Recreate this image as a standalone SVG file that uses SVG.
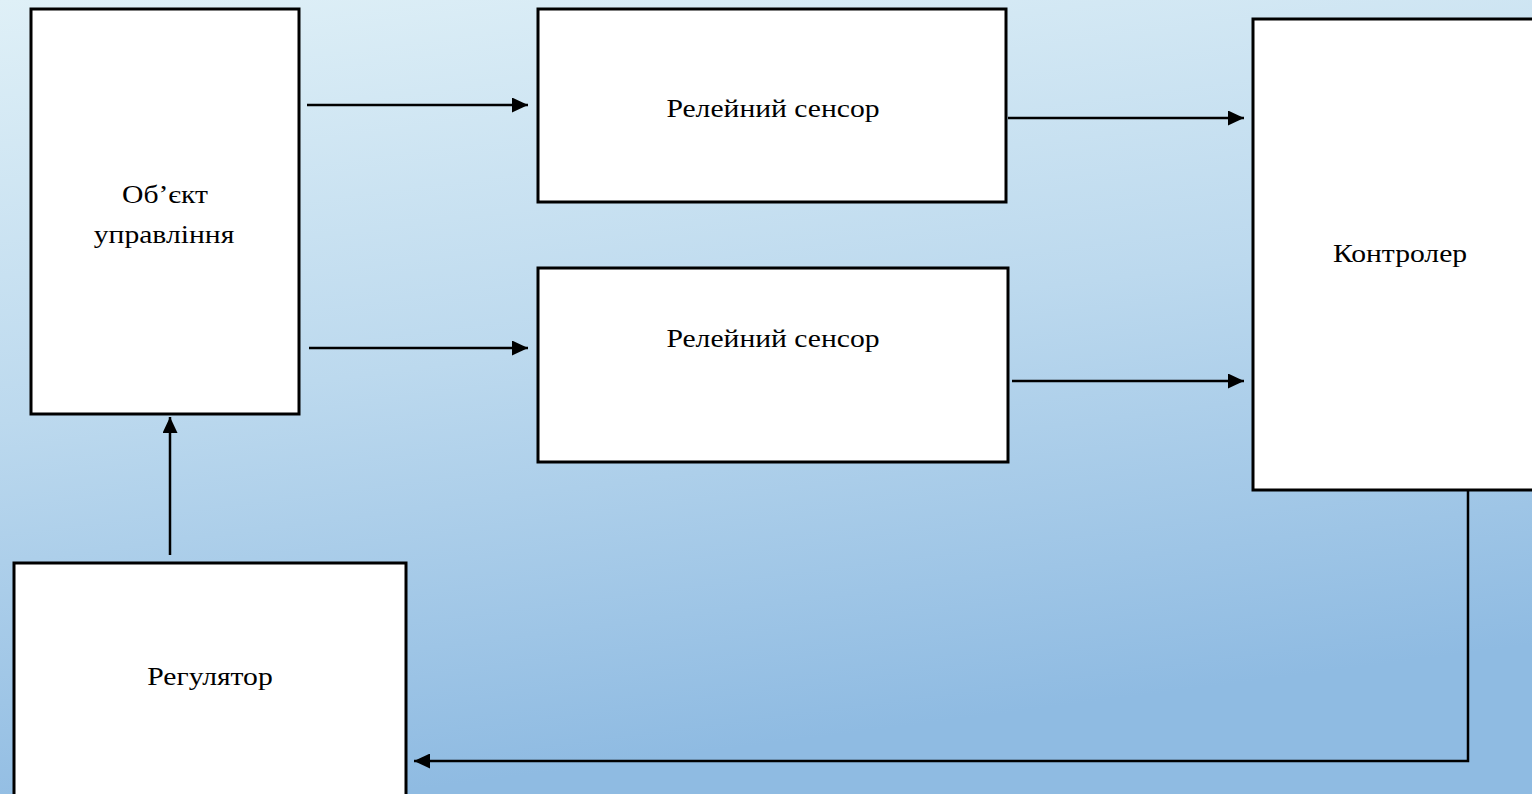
<svg xmlns="http://www.w3.org/2000/svg" width="1532" height="794" viewBox="0 0 1532 794">
  <defs>
    <linearGradient id="bg" x1="0" y1="0" x2="0.25" y2="1">
      <stop offset="0" stop-color="#dff0f7"/>
      <stop offset="0.5" stop-color="#bcd9ee"/>
      <stop offset="1" stop-color="#8fbbe2"/>
    </linearGradient>
    <marker id="arrow" viewBox="0 0 16 15" refX="16" refY="7.5" markerWidth="16" markerHeight="15" markerUnits="userSpaceOnUse" orient="auto">
      <path d="M0,0 L16,7.5 L0,15 Z" fill="#000"/>
    </marker>
  </defs>
  <style>
    .box { fill: #ffffff; stroke: #000000; stroke-width: 3; }
    .label { font-family: "Liberation Serif", "Times New Roman", serif; font-size: 26px; fill: #000; text-anchor: middle; }
    .conn { fill: none; stroke: #000000; stroke-width: 2.5; marker-end: url(#arrow); }
  </style>

  <rect x="0" y="0" width="1532" height="794" fill="url(#bg)"/>

  <g id="connectors">
    <line class="conn" x1="307" y1="105" x2="528" y2="105"/>
    <line class="conn" x1="309" y1="348" x2="528" y2="348"/>
    <line class="conn" x1="1008" y1="118" x2="1244" y2="118"/>
    <line class="conn" x1="1012" y1="381" x2="1244" y2="381"/>
    <line class="conn" x1="170" y1="555" x2="170" y2="417"/>
    <polyline class="conn" points="1468,490 1468,761 414,761"/>
  </g>

  <!-- labels are set slightly wide: scale(1.14,1) about their anchor -->
  <g id="object">
    <rect class="box" x="31" y="9" width="268" height="405"/>
    <text class="label" transform="translate(165 203) scale(1.14 1)">Об’єкт</text>
    <text class="label" transform="translate(164 243) scale(1.14 1)">управління</text>
  </g>

  <g id="sensor1">
    <rect class="box" x="538" y="9" width="468" height="193"/>
    <text class="label" transform="translate(773 117) scale(1.14 1)">Релейний сенсор</text>
  </g>

  <g id="sensor2">
    <rect class="box" x="538" y="268" width="470" height="194"/>
    <text class="label" transform="translate(773 347) scale(1.14 1)">Релейний сенсор</text>
  </g>

  <g id="controller">
    <rect class="box" x="1253" y="19" width="290" height="471"/>
    <text class="label" transform="translate(1400 262) scale(1.14 1)">Контролер</text>
  </g>

  <g id="regulator">
    <rect class="box" x="14" y="563" width="392" height="250"/>
    <text class="label" transform="translate(210 685) scale(1.14 1)">Регулятор</text>
  </g>
</svg>
